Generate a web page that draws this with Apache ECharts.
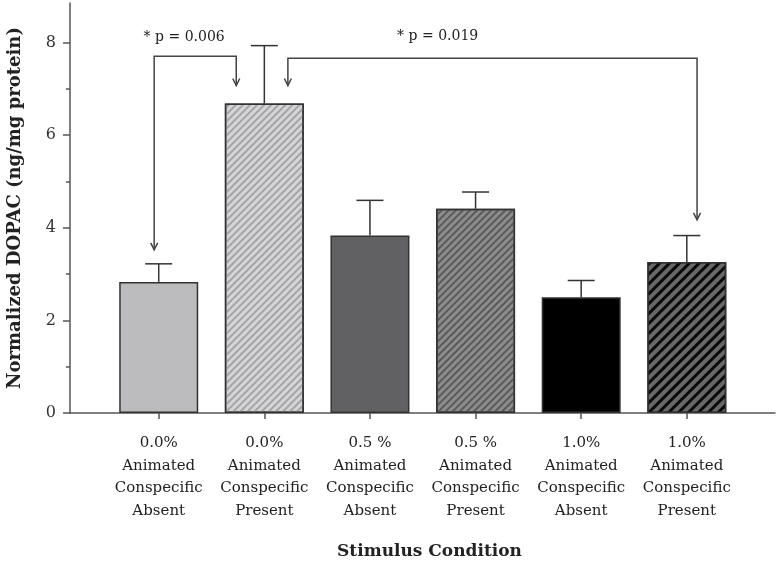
<!DOCTYPE html>
<html><head><meta charset="utf-8">
<script src="https://cdn.jsdelivr.net/npm/echarts@6/dist/echarts.min.js"></script>
<style>html,body{margin:0;padding:0;background:#fff}#c{width:778px;height:562px}</style>
</head><body><div id="c"></div>
<script>
// ---- data ----
const categories = [
  '0.0%\nAnimated\nConspecific\nAbsent',
  '0.0%\nAnimated\nConspecific\nPresent',
  '0.5 %\nAnimated\nConspecific\nAbsent',
  '0.5 %\nAnimated\nConspecific\nPresent',
  '1.0%\nAnimated\nConspecific\nAbsent',
  '1.0%\nAnimated\nConspecific\nPresent'
];
const means  = [2.83, 6.68, 3.83, 4.41, 2.50, 3.26];
const errors = [0.39, 1.25, 0.76, 0.36, 0.36, 0.57];
const yMajorTicks = [0, 2, 4, 6, 8];
const yMinorTicks = [1, 3, 5, 7];
const xTicks = [0, 1, 2, 3, 4, 5];
// significance brackets, in data units (x = category index, y = DOPAC)
const bracketPaths = [
  [[-0.043, 3.52], [-0.043, 7.70], [0.734, 7.70], [0.734, 7.07]],
  [[1.223, 7.07], [1.223, 7.66], [5.097, 7.66], [5.097, 4.17]]
];
const bracketLabels = ['* p = 0.006', '* p = 0.019'];
const bracketLabelPos = [[0.241, 8.11], [2.641, 8.13]];

// ---- styles ----
const FONT = '"DejaVu Serif", "Liberation Serif", serif';
const EDGE = '#333';
const ROT = -Math.PI / 4;
const barStyles = [
  { color: '#bcbcbe' },
  { color: '#d5d5d7', decal: { symbol: 'rect', symbolSize: 1, dashArrayX: [1, 0], dashArrayY: [1.6, 3], rotation: ROT, color: '#a4a4a6' } },
  { color: '#616163' },
  { color: '#8c8c8c', decal: { symbol: 'rect', symbolSize: 1, dashArrayX: [1, 0], dashArrayY: [2, 3], rotation: ROT, color: '#5a5a5a' } },
  { color: '#000000' },
  { color: '#686868', decal: { symbol: 'rect', symbolSize: 1, dashArrayX: [1, 0], dashArrayY: [2.5, 3.2], rotation: ROT, color: '#0a0a0a' } }
];

function arrowHead(tip, from) {
  const dx = tip[0] - from[0], dy = tip[1] - from[1];
  const L = Math.sqrt(dx * dx + dy * dy) || 1;
  const ux = dx / L, uy = dy / L, nx = -uy, ny = ux;
  const len = 7, hw = 3.5;
  return [
    [tip[0] - ux * len + nx * hw, tip[1] - uy * len + ny * hw],
    tip,
    [tip[0] - ux * len - nx * hw, tip[1] - uy * len - ny * hw]
  ];
}

const chart = echarts.init(document.getElementById('c'), null, { renderer: 'canvas' });
chart.setOption({
  animation: false,
  backgroundColor: '#fff',
  grid: { left: 70, right: 3, top: 3, bottom: 149, containLabel: false, outerBoundsMode: 'none' },
  xAxis: {
    type: 'value', min: -0.84, max: 5.835,
    splitLine: { show: false },
    axisLine: { show: true, onZero: false, lineStyle: { color: '#555', width: 1.5 } },
    axisTick: { show: true, customValues: xTicks, length: 6, lineStyle: { color: '#555', width: 1.5 } },
    axisLabel: {
      customValues: xTicks, formatter: v => categories[Math.round(v)],
      margin: 19, fontFamily: FONT, fontSize: 15, lineHeight: 22.5, color: '#222'
    },
    name: 'Stimulus Condition', nameLocation: 'middle', nameGap: 130,
    nameTextStyle: { fontFamily: FONT, fontWeight: 'bold', fontSize: 17, color: '#222', padding: [0, 0, 0, 14] }
  },
  yAxis: [
    {
      type: 'value', min: 0, max: 8.85, position: 'left',
      splitLine: { show: false },
      axisLine: { show: true, onZero: false, lineStyle: { color: '#555', width: 1.5 } },
      axisTick: { show: true, customValues: yMajorTicks, length: 7, lineStyle: { color: '#555', width: 1.5 } },
      axisLabel: { customValues: yMajorTicks, margin: 14, fontFamily: FONT, fontSize: 16, color: '#333' },
      name: 'Normalized DOPAC (ng/mg protein)', nameLocation: 'middle', nameGap: 46,
      nameTextStyle: { fontFamily: FONT, fontWeight: 'bold', fontSize: 18, color: '#222' }
    },
    {
      type: 'value', min: 0, max: 8.85, position: 'left',
      splitLine: { show: false },
      axisLine: { show: false, onZero: false },
      axisTick: { show: true, customValues: yMinorTicks, length: 4, lineStyle: { color: '#555', width: 1.5 } },
      axisLabel: { show: false }
    }
  ],
  series: [
    {
      type: 'bar', yAxisIndex: 0, barWidth: 79,
      data: means.map((v, i) => ({ value: [i, v], itemStyle: Object.assign({ borderColor: EDGE, borderWidth: 1.5 }, barStyles[i]) })),
      z: 2
    },
    {
      type: 'custom', yAxisIndex: 0, z: 3,
      data: means.map((v, i) => [i, v, errors[i]]),
      renderItem: (params, api) => {
        const x = api.value(0), y = api.value(1), e = api.value(2);
        const p0 = api.coord([x, y]), p1 = api.coord([x, y + e]);
        const st = { stroke: EDGE, lineWidth: 1.5 };
        return { type: 'group', children: [
          { type: 'line', shape: { x1: p0[0], y1: p0[1], x2: p1[0], y2: p1[1] }, style: st },
          { type: 'line', shape: { x1: p1[0] - 13.5, y1: p1[1], x2: p1[0] + 13.5, y2: p1[1] }, style: st }
        ] };
      }
    },
    {
      type: 'custom', yAxisIndex: 0, z: 4,
      data: bracketLabelPos.map((p, i) => [p[0], p[1], i]),
      renderItem: (params, api) => {
        const idx = api.value(2);
        const pts = bracketPaths[idx].map(p => api.coord(p));
        const lp = api.coord([api.value(0), api.value(1)]);
        const st = { stroke: '#444', lineWidth: 1.5, fill: null };
        const n = pts.length;
        return { type: 'group', children: [
          { type: 'polyline', shape: { points: pts }, style: st },
          { type: 'polyline', shape: { points: arrowHead(pts[0], pts[1]) }, style: st },
          { type: 'polyline', shape: { points: arrowHead(pts[n - 1], pts[n - 2]) }, style: st },
          { type: 'text', style: { text: bracketLabels[idx], x: lp[0], y: lp[1], align: 'center', verticalAlign: 'middle', fontFamily: FONT, fontSize: 14, fill: '#222' } }
        ] };
      }
    }
  ]
});
</script>
</body></html>
